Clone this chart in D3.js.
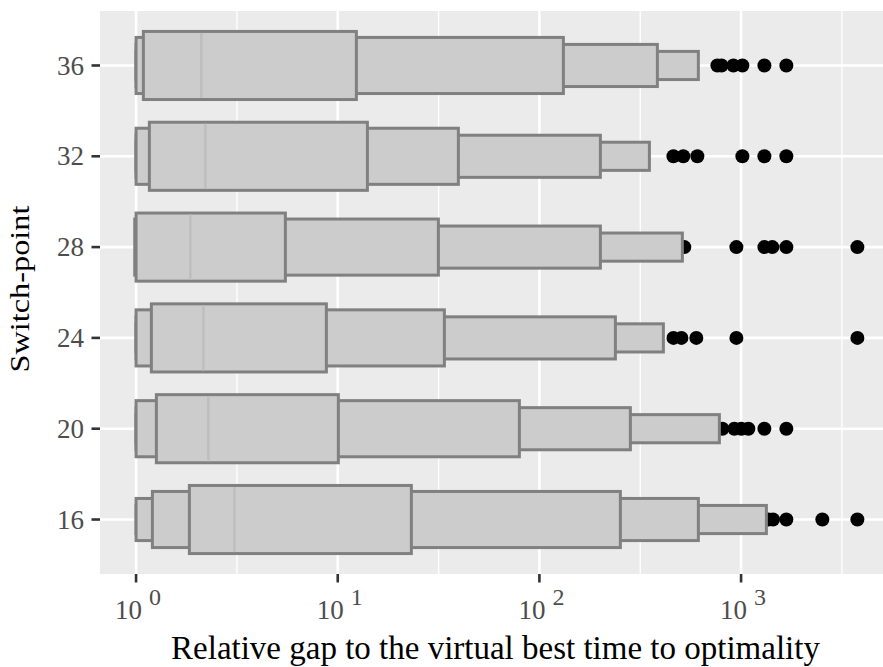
<!DOCTYPE html>
<html>
<head>
<meta charset="utf-8">
<script src="https://cdn.jsdelivr.net/npm/d3@7"></script>
<style>
  html, body { margin: 0; padding: 0; background: #ffffff; }
  svg { display: block; }
</style>
</head>
<body>
<div id="chart"></div>
<script>
// ---------------- data ----------------
const categories = ["16", "20", "24", "28", "32", "36"];
const medians  = [3.073, 2.283, 2.157, 1.859, 2.206, 2.108];
const lv1Lower = [1.838, 1.261, 1.191, 1.000, 1.164, 1.087];
const lv1Upper = [23.18, 10.07, 8.783, 5.500, 14.03, 12.37];
const lv2Lower = [1.205, 1.000, 1.000, 0.985, 1.000, 1.000];
const lv2Upper = [252.0, 79.55, 33.79, 31.55, 39.64, 131.5];
const lv3Lower = [1.000, 1.000, 1.000, 1.000, 1.000, 1.000];
const lv3Upper = [614.0, 282.5, 238.1, 200.6, 200.6, 384.5];
const lv4Lower = [1.000, 1.000, 1.000, 1.000, 1.000, 1.000];
const lv4Upper = [1335, 780.5, 411.8, 511.5, 351.1, 614.0];
const outliers = [
  [1366, 1440, 1677, 2529, 3773],
  [808, 926, 1003, 1087, 1305, 1677],
  [462, 506, 600, 948, 3773],
  [523, 948, 1305, 1429, 1677, 3773],
  [462, 517, 607, 1015, 1305, 1677],
  [763, 800, 916, 1015, 1305, 1677]
];
const xTickExponents = [0, 1, 2, 3];
const xLabel = "Relative gap to the virtual best time to optimality";
const yLabel = "Switch-point";

// ---------------- layout ----------------
const W = 883, H = 667;
const panel = { left: 100, top: 11, bottom: 574 };
const decadePx = 201.67;

// log x domain expanded like ggplot (5% of transformed range)
const allVals = [].concat(lv4Lower, lv4Upper, ...outliers);
const lmin = Math.log10(1), lmax = Math.log10(d3.max(allVals));
const pad = (lmax - lmin) * 0.05;
const dLo = lmin - pad, dHi = lmax + pad;
panel.right = panel.left + (dHi - dLo) * decadePx;

const x = d3.scaleLog()
  .domain([Math.pow(10, dLo), Math.pow(10, dHi)])
  .range([panel.left, panel.right]);

const y = d3.scalePoint()
  .domain(categories)
  .range([panel.bottom, panel.top])
  .padding(0.6);
const step = y.step();
const halfH = [0.375, 0.309, 0.232, 0.155].map(f => f * step);

const svg = d3.select("#chart").append("svg")
  .attr("width", W).attr("height", H);

// panel background
svg.append("rect")
  .attr("x", panel.left).attr("y", panel.top)
  .attr("width", panel.right - panel.left)
  .attr("height", panel.bottom - panel.top)
  .attr("fill", "#EBEBEB");

// minor gridlines (half decades)
const minor = [-0.5, 0.5, 1.5, 2.5, 3.5].map(e => Math.pow(10, e))
  .filter(v => x(v) > panel.left && x(v) < panel.right);
svg.append("g").selectAll("line").data(minor).join("line")
  .attr("x1", d => x(d)).attr("x2", d => x(d))
  .attr("y1", panel.top).attr("y2", panel.bottom)
  .attr("stroke", "#ffffff").attr("stroke-width", 1.3);

// major gridlines
const majors = xTickExponents.map(e => Math.pow(10, e));
svg.append("g").selectAll("line").data(majors).join("line")
  .attr("x1", d => x(d)).attr("x2", d => x(d))
  .attr("y1", panel.top).attr("y2", panel.bottom)
  .attr("stroke", "#ffffff").attr("stroke-width", 2.6);
svg.append("g").selectAll("line").data(categories).join("line")
  .attr("x1", panel.left).attr("x2", panel.right)
  .attr("y1", d => y(d)).attr("y2", d => y(d))
  .attr("stroke", "#ffffff").attr("stroke-width", 2.6);

// outliers (drawn beneath boxes)
const ptData = [];
categories.forEach((c, i) => outliers[i].forEach(v => ptData.push({ c, v })));
svg.append("g").selectAll("circle").data(ptData).join("circle")
  .attr("cx", d => x(d.v)).attr("cy", d => y(d.c))
  .attr("r", 7).attr("fill", "#000000");

// letter-value boxes, outermost level first
const levels = [
  { lo: lv4Lower, hi: lv4Upper, h: halfH[3] },
  { lo: lv3Lower, hi: lv3Upper, h: halfH[2] },
  { lo: lv2Lower, hi: lv2Upper, h: halfH[1] },
  { lo: lv1Lower, hi: lv1Upper, h: halfH[0] }
];
const boxes = svg.append("g");
categories.forEach((c, i) => {
  levels.forEach(L => {
    boxes.append("rect")
      .attr("x", x(L.lo[i]))
      .attr("y", y(c) - L.h)
      .attr("width", x(L.hi[i]) - x(L.lo[i]))
      .attr("height", 2 * L.h)
      .attr("fill", "#CCCCCC")
      .attr("stroke", "#808080")
      .attr("stroke-width", 3);
  });
  boxes.append("line")
    .attr("x1", x(medians[i])).attr("x2", x(medians[i]))
    .attr("y1", y(c) - halfH[0] + 1.5).attr("y2", y(c) + halfH[0] - 1.5)
    .attr("stroke", "#BEBEBE").attr("stroke-width", 2.5);
});

// axes
const font = "'Liberation Serif', 'Times New Roman', serif";
const xAxis = svg.append("g");
xTickExponents.forEach(e => {
  const px = x(Math.pow(10, e));
  xAxis.append("line")
    .attr("x1", px).attr("x2", px)
    .attr("y1", panel.bottom).attr("y2", panel.bottom + 8.5)
    .attr("stroke", "#333333").attr("stroke-width", 2.6);
  const t = xAxis.append("text")
    .attr("x", px + 2).attr("y", 619)
    .attr("text-anchor", "middle")
    .attr("font-family", font).attr("font-size", 27)
    .attr("fill", "#4D4D4D");
  t.append("tspan").text("10");
  t.append("tspan").attr("dx", 7).attr("dy", -14)
    .attr("font-size", 24).text(String(e));
});

const yAxis = svg.append("g");
categories.forEach(c => {
  yAxis.append("line")
    .attr("x1", panel.left - 8.5).attr("x2", panel.left)
    .attr("y1", y(c)).attr("y2", y(c))
    .attr("stroke", "#333333").attr("stroke-width", 2.6);
  yAxis.append("text")
    .attr("x", 84).attr("y", y(c))
    .attr("dy", "0.34em")
    .attr("text-anchor", "end")
    .attr("font-family", font).attr("font-size", 27)
    .attr("fill", "#4D4D4D")
    .text(c);
});

// axis titles
svg.append("text")
  .attr("x", (panel.left + 883) / 2 + 4).attr("y", 659)
  .attr("text-anchor", "middle")
  .attr("font-family", font).attr("font-size", 33)
  .attr("fill", "#000000")
  .text(xLabel);

svg.append("text")
  .attr("transform", `translate(28.5, 289) rotate(-90)`)
  .attr("text-anchor", "middle")
  .attr("font-family", font).attr("font-size", 27.5)
  .attr("textLength", 167)
  .attr("lengthAdjust", "spacingAndGlyphs")
  .attr("fill", "#000000")
  .text(yLabel);
</script>
</body>
</html>
